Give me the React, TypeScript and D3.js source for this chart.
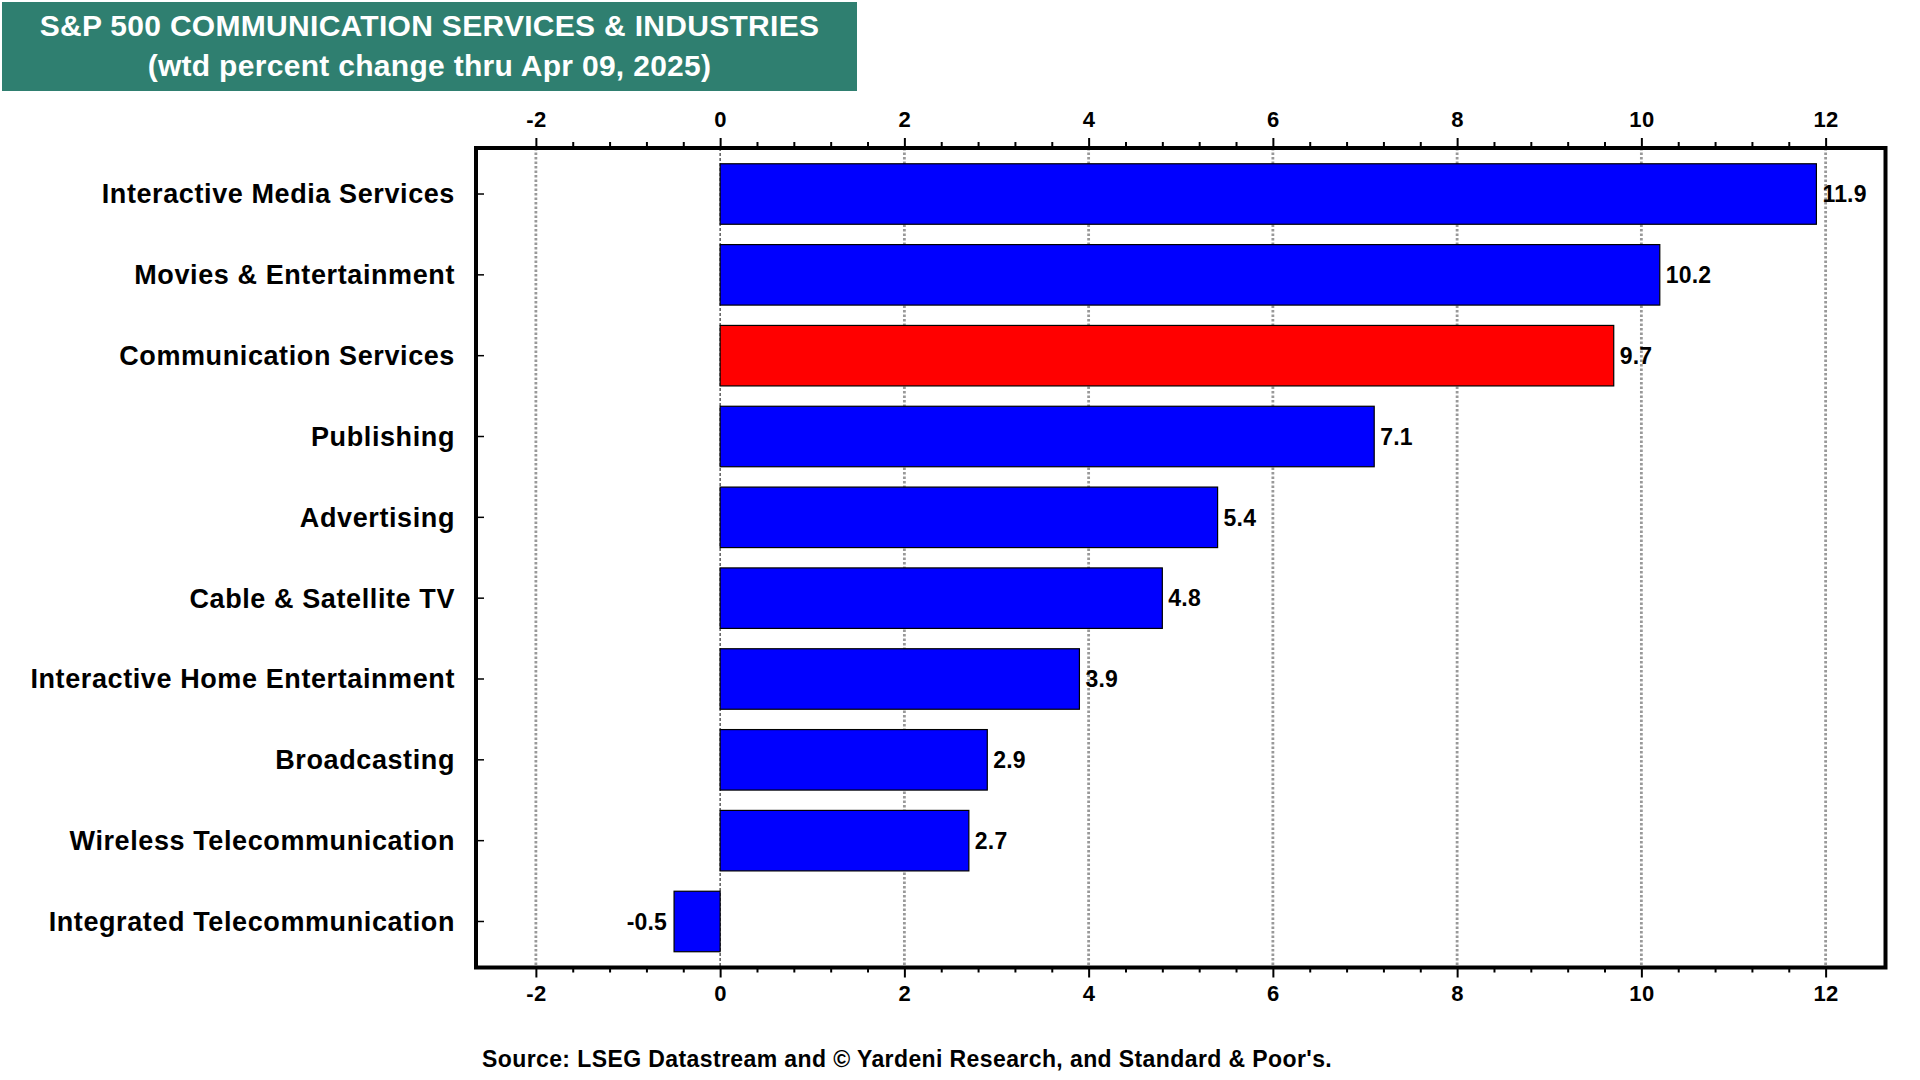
import React, { useEffect, useRef } from "react";
import * as d3 from "d3";

// chart data
const categories = [
  "Interactive Media Services",
  "Movies & Entertainment",
  "Communication Services",
  "Publishing",
  "Advertising",
  "Cable & Satellite TV",
  "Interactive Home Entertainment",
  "Broadcasting",
  "Wireless Telecommunication",
  "Integrated Telecommunication",
];
const values = [11.9, 10.2, 9.7, 7.1, 5.4, 4.8, 3.9, 2.9, 2.7, -0.5];
const highlighted = "Communication Services";

const majorTicks = [-2, 0, 2, 4, 6, 8, 10, 12];
const titleLines = [
  "S&P 500 COMMUNICATION SERVICES & INDUSTRIES",
  "(wtd percent change thru Apr 09, 2025)",
];
const sourceText =
  "Source: LSEG Datastream and \u00A9 Yardeni Research, and Standard & Poor's.";

const FONT = "'Liberation Sans', Arial, Helvetica, sans-serif";

const App: React.FC = () => {
  const ref = useRef<SVGSVGElement | null>(null);
  const width = 1920;
  const height = 1080;

  // plot frame
  const left = 476;
  const right = 1885.5;
  const top = 148;
  const bottom = 967.5;

  useEffect(() => {
    const svg = d3.select(ref.current);
    svg.selectAll("*").remove();

    const x = d3.scaleLinear().domain([-2.65, 12.65]).range([left, right]);
    const y = d3
      .scaleBand<string>()
      .domain(categories)
      .range([top, bottom])
      .paddingInner(0.2515)
      .paddingOuter(0.195);

    const minorTicks = d3
      .range(-2, 12.001, 0.4)
      .map((d) => +d.toFixed(1))
      .filter((d) => !majorTicks.includes(d));

    // title box
    svg
      .append("rect")
      .attr("x", 2)
      .attr("y", 2)
      .attr("width", 855)
      .attr("height", 89)
      .attr("fill", "#2f7f70");

    titleLines.forEach((line, i) => {
      svg
        .append("text")
        .attr("x", 429.5)
        .attr("y", 36 + i * 40)
        .attr("text-anchor", "middle")
        .attr("fill", "white")
        .attr("font-family", FONT)
        .attr("font-weight", "bold")
        .attr("font-size", 30)
        .attr("letter-spacing", 0.3)
        .text(line);
    });

    // grid lines
    svg
      .append("g")
      .selectAll("line")
      .data(majorTicks)
      .join("line")
      .attr("x1", (d) => x(d))
      .attr("x2", (d) => x(d))
      .attr("y1", top)
      .attr("y2", bottom)
      .attr("stroke", (d) => (d === 0 ? "#333" : "#999"))
      .attr("stroke-width", (d) => (d === 0 ? 1.2 : 2.8))
      .attr("stroke-dasharray", (d) => (d === 0 ? "3,2" : "2.5,2"));

    // bars
    const rows = categories.map((c, i) => ({ name: c, value: values[i] }));

    svg
      .append("g")
      .selectAll("rect")
      .data(rows)
      .join("rect")
      .attr("x", (d) => x(Math.min(0, d.value)))
      .attr("y", (d) => y(d.name)!)
      .attr("width", (d) => Math.abs(x(d.value) - x(0)))
      .attr("height", y.bandwidth())
      .attr("fill", (d) => (d.name === highlighted ? "#ff0000" : "#0000ff"))
      .attr("stroke", "black")
      .attr("stroke-width", 1.2);

    // value labels
    svg
      .append("g")
      .selectAll("text")
      .data(rows)
      .join("text")
      .attr("x", (d) => (d.value >= 0 ? x(d.value) + 6 : x(d.value) - 7))
      .attr("y", (d) => y(d.name)! + y.bandwidth() / 2)
      .attr("dy", "0.36em")
      .attr("text-anchor", (d) => (d.value >= 0 ? "start" : "end"))
      .attr("font-family", FONT)
      .attr("font-weight", "bold")
      .attr("font-size", 23)
      .attr("letter-spacing", 0.2)
      .attr("fill", "black")
      .text((d) => d.value.toFixed(1));

    const styleAxis = (g: d3.Selection<SVGGElement, unknown, null, undefined>, size: number) => {
      g.select(".domain").remove();
      g.selectAll(".tick line").attr("stroke", "black").attr("stroke-width", 2);
      g.selectAll(".tick text")
        .attr("fill", "black")
        .attr("font-family", FONT)
        .attr("font-weight", "bold")
        .attr("font-size", size)
        .attr("letter-spacing", 0.3);
    };

    const tickLabel = (d: d3.NumberValue) => String(+d);

    // top axis
    svg
      .append("g")
      .attr("transform", `translate(0,${top})`)
      .call(d3.axisTop(x).tickValues(minorTicks).tickSize(6).tickFormat(() => ""))
      .call((g) => styleAxis(g, 22));
    svg
      .append("g")
      .attr("transform", `translate(0,${top})`)
      .call(d3.axisTop(x).tickValues(majorTicks).tickSize(10).tickPadding(11).tickFormat(tickLabel))
      .call((g) => styleAxis(g, 22));

    // bottom axis
    svg
      .append("g")
      .attr("transform", `translate(0,${bottom})`)
      .call(d3.axisBottom(x).tickValues(minorTicks).tickSize(5).tickFormat(() => ""))
      .call((g) => styleAxis(g, 22));
    svg
      .append("g")
      .attr("transform", `translate(0,${bottom})`)
      .call(d3.axisBottom(x).tickValues(majorTicks).tickSize(10).tickPadding(8).tickFormat(tickLabel))
      .call((g) => styleAxis(g, 22));

    // category axis
    svg
      .append("g")
      .attr("transform", `translate(${left},0)`)
      .call(d3.axisLeft(y).tickSize(-8).tickPadding(21))
      .call((g) => {
        styleAxis(g, 27);
        g.selectAll(".tick line").attr("stroke-width", 1.5);
        g.selectAll(".tick text").attr("letter-spacing", 0.6).attr("dy", "0.35em");
      });

    // frame
    svg
      .append("rect")
      .attr("x", left)
      .attr("y", top)
      .attr("width", right - left)
      .attr("height", bottom - top)
      .attr("fill", "none")
      .attr("stroke", "black")
      .attr("stroke-width", 4);

    // source note
    svg
      .append("text")
      .attr("x", 482)
      .attr("y", 1067)
      .attr("font-family", FONT)
      .attr("font-weight", "bold")
      .attr("font-size", 23)
      .attr("letter-spacing", 0.4)
      .attr("fill", "black")
      .text(sourceText);
  }, []);

  return (
    <svg
      ref={ref}
      width={width}
      height={height}
      style={{ position: "absolute", left: 0, top: 0, background: "white" }}
    />
  );
};

export default App;
